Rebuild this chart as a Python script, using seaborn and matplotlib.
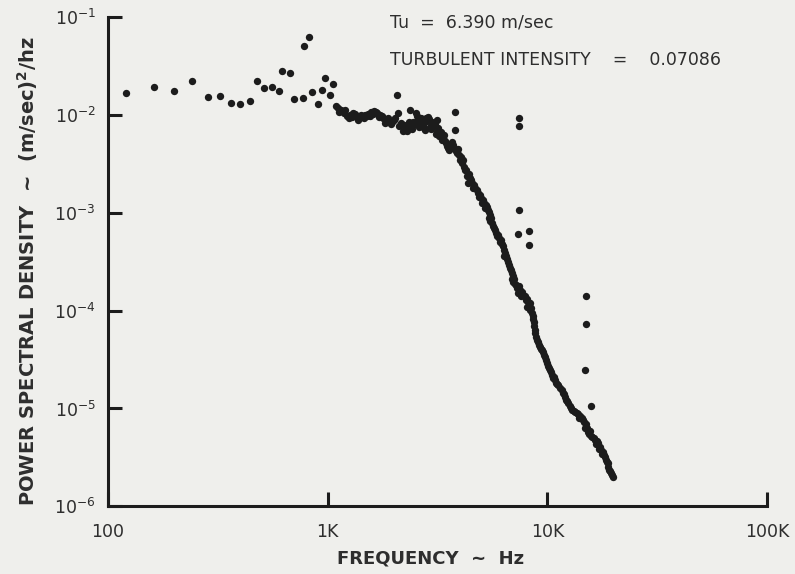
import matplotlib
matplotlib.use("Agg")
import matplotlib.pyplot as plt
import numpy as np
import pandas as pd
import seaborn as sns

# low frequency scattered estimates (Hz, (m/sec)^2/hz)
freq_low = [120, 161, 200, 240, 286, 324, 363, 400, 441, 478, 514, 559, 600,
            617, 673, 703, 769, 780, 824, 851, 900, 942, 975, 1020, 1054, 1087]
psd_low = [1.68e-2, 1.94e-2, 1.75e-2, 2.23e-2, 1.52e-2, 1.55e-2, 1.33e-2,
           1.29e-2, 1.38e-2, 2.23e-2, 1.87e-2, 1.95e-2, 1.76e-2, 2.81e-2,
           2.66e-2, 1.45e-2, 1.48e-2, 5.1e-2, 6.3e-2, 1.70e-2, 1.30e-2,
           1.82e-2, 2.38e-2, 1.62e-2, 2.07e-2, 1.24e-2]

# dense part of the spectrum, centre of the trace
freq_main = [1110, 1150, 1190, 1220, 1260, 1300, 1345, 1390, 1430, 1480,
             1525, 1575, 1625, 1675, 1730, 1785, 1840, 1900, 1960, 2025,
             2090, 2155, 2200, 2270, 2320, 2370, 2395, 2445, 2525, 2575,
             2630, 2690, 2745, 2800, 2860, 2920, 2985, 3045, 3145, 3145,
             3245, 3350, 3455, 3530, 3605, 3720, 3840, 3960, 4045, 4130,
             4175, 4260, 4400, 4350, 4490, 4635, 4780, 4935, 5095, 5255,
             5365, 5480, 5480, 5655, 5775, 5960, 6150, 6280, 6415, 6550,
             6690, 6830, 6975, 6975, 7200, 7430, 7350, 7665, 7910, 8075,
             8335, 8075, 8335, 8600, 8690, 8780, 8875, 9060, 9255, 9550,
             9750, 9960, 10280, 10490, 10830, 11180, 11660, 12020, 12410, 12810,
             13220, 13640, 14070, 14530, 14990, 15300, 15790, 16300, 16820, 17360,
             17910, 18290, 18670, 18870, 19280, 19680]
psd_main = [1.17e-2, 1.12e-2, 1.04e-2, 9.7e-3, 9.95e-3, 1.04e-2, 9.7e-3, 9.27e-3, 9.5e-3, 9.95e-3,
            1.02e-2, 1.07e-2, 1.09e-2, 1.04e-2, 9.95e-3, 9.27e-3, 8.85e-3, 8.64e-3, 8.44e-3, 9.27e-3,
            1.04e-2, 8.24e-3, 6.83e-3, 7.33e-3, 7.87e-3, 1.12e-2, 7.5e-3, 8.44e-3, 1.04e-2, 9.06e-3,
            8.05e-3, 8.44e-3, 7.33e-3, 9.27e-3, 9.5e-3, 7.5e-3, 8.05e-3, 8.44e-3, 8.85e-3, 6.67e-3,
            6.36e-3, 5.79e-3, 5.15e-3, 4.58e-3, 4.91e-3, 4.91e-3, 4.26e-3, 3.88e-3, 3.70e-3, 3.45e-3,
            2.92e-3, 2.72e-3, 2.48e-3, 2.0e-3, 2.16e-3, 1.92e-3, 1.70e-3, 1.51e-3, 1.35e-3, 1.20e-3,
            1.07e-3, 9.45e-4, 8.21e-4, 7.29e-4, 6.64e-4, 5.90e-4, 5.25e-4, 4.55e-4, 3.86e-4, 3.35e-4,
            2.91e-4, 2.59e-4, 2.25e-4, 1.95e-4, 1.82e-4, 1.78e-4, 1.51e-4, 1.54e-4, 1.41e-4, 1.31e-4,
            1.19e-4, 1.08e-4, 1.01e-4, 8.76e-5, 7.61e-5, 6.30e-5, 5.34e-5, 4.75e-5, 4.22e-5, 3.75e-5,
            3.34e-5, 2.90e-5, 2.46e-5, 2.18e-5, 1.94e-5, 1.73e-5, 1.54e-5, 1.31e-5, 1.13e-5, 1.0e-5,
            9.36e-6, 8.93e-6, 8.32e-6, 7.57e-6, 6.89e-6, 5.71e-6, 5.20e-6, 4.96e-6, 4.62e-6, 4.01e-6,
            3.57e-6, 3.17e-6, 2.82e-6, 2.50e-6, 2.28e-6, 2.07e-6]

# extra points filling out the band between 1.1K and 4K
freq_band = [1126, 1200, 1250, 1290, 1330, 1375, 1420, 1465, 1510, 1560,
             1610, 1660, 1710, 1765, 1825, 1880, 1940, 2005, 2110, 2225,
             2295, 2345, 2420, 2495, 2550, 2605, 2660, 2715, 2775, 2830,
             2890, 2950, 3015, 3080, 3110, 3180, 3210, 3280, 3315, 3385,
             3420, 3490, 3565, 3640, 3680, 3760, 3880, 3920]
psd_band = [1.07e-2, 1.12e-2, 9.27e-3, 9.5e-3, 1.02e-2, 8.85e-3, 9.95e-3, 9.27e-3, 9.72e-3, 9.72e-3,
            1.02e-2, 1.07e-2, 9.5e-3, 9.72e-3, 8.24e-3, 9.27e-3, 8.05e-3, 8.85e-3, 7.68e-3, 7.87e-3,
            6.83e-3, 8.44e-3, 7.16e-3, 8.05e-3, 9.72e-3, 7.5e-3, 9.27e-3, 7.87e-3, 6.99e-3, 8.64e-3,
            9.06e-3, 7.16e-3, 7.68e-3, 8.05e-3, 6.36e-3, 7.33e-3, 6.07e-3, 6.67e-3, 5.52e-3, 6.21e-3,
            5.40e-3, 4.80e-3, 4.37e-3, 4.58e-3, 5.27e-3, 4.58e-3, 4.07e-3, 4.47e-3]

# extra points along the steep roll-off
freq_slope = [4000, 4085, 4215, 4305, 4445, 4540, 4585, 4680, 4835, 4885,
              4985, 5040, 5145, 5200, 5310, 5425, 5425, 5540, 5595, 5715,
              5835, 5895, 6020, 6085, 6215, 6345, 6345, 6480, 6615, 6755,
              6900, 6900, 7045, 7120, 7270, 7505, 7585, 7745, 7990, 8160,
              8250, 8420, 8510, 8600, 8690, 8780, 8970, 9160, 9350, 9450,
              9650, 9850, 10060, 10170, 10380, 10600, 10720, 10940, 11060, 11410,
              11780, 11900, 12150, 12280, 12670, 12940, 13360, 13780, 13930, 14370,
              14680, 14830, 15150, 15460, 15630, 15960, 16470, 16650, 17000, 17180,
              17540, 17730, 18100, 18480, 18870, 19070, 19480, 19890]
psd_slope = [3.45e-3, 3.22e-3, 2.72e-3, 2.37e-3, 2.26e-3, 2.0e-3, 1.78e-3, 1.78e-3, 1.58e-3, 1.44e-3,
             1.41e-3, 1.26e-3, 1.26e-3, 1.12e-3, 1.14e-3, 1.01e-3, 8.81e-4, 8.81e-4, 7.83e-4, 6.96e-4,
             6.18e-4, 5.76e-4, 5.50e-4, 5.0e-4, 4.77e-4, 4.15e-4, 3.60e-4, 3.60e-4, 3.13e-4, 2.71e-4,
             2.41e-4, 2.09e-4, 2.09e-4, 1.86e-4, 1.69e-4, 1.62e-4, 1.41e-4, 1.44e-4, 1.28e-4, 1.23e-4,
             1.11e-4, 1.06e-4, 9.41e-5, 8.16e-5, 6.93e-5, 5.88e-5, 4.98e-5, 4.43e-5, 4.03e-5, 3.94e-5,
             3.50e-5, 3.11e-5, 2.70e-5, 2.58e-5, 2.34e-5, 2.04e-5, 2.08e-5, 1.81e-5, 1.77e-5, 1.61e-5,
             1.43e-5, 1.40e-5, 1.21e-5, 1.19e-5, 1.06e-5, 9.58e-6, 9.15e-6, 8.72e-6, 7.94e-6, 7.94e-6,
             7.23e-6, 6.27e-6, 6.27e-6, 5.45e-6, 5.85e-6, 5.07e-6, 4.73e-6, 4.31e-6, 4.41e-6, 3.83e-6,
             3.74e-6, 3.40e-6, 3.32e-6, 2.95e-6, 2.75e-6, 2.33e-6, 2.17e-6, 1.98e-6]

# isolated spikes above the curve
freq_spike = [2070, 3800, 3800, 7430, 7430, 7430, 7350, 8250, 8250,
              14990, 14990, 14830, 15790]
psd_spike = [1.59e-2, 1.07e-2, 6.99e-3, 9.27e-3, 7.68e-3, 1.06e-3, 6.04e-4,
             6.49e-4, 4.66e-4, 1.40e-4, 7.26e-5, 2.46e-5, 1.06e-5]

x_ticks = [100, 1000, 10000, 100000]
x_labels = ['100', '1K', '10K', '100K']
y_ticks = [1e-6, 1e-5, 1e-4, 1e-3, 1e-2, 1e-1]
y_labels = ['$10^{-6}$', '$10^{-5}$', '$10^{-4}$', '$10^{-3}$', '$10^{-2}$', '$10^{-1}$']

df = pd.DataFrame({
    'freq': freq_low + freq_main + freq_band + freq_slope + freq_spike,
    'psd': psd_low + psd_main + psd_band + psd_slope + psd_spike,
})

sns.set_theme(style='ticks')
plt.rcParams['font.family'] = ['DejaVu Sans']
plt.rcParams['mathtext.fontset'] = 'dejavusans'
plt.rcParams['mathtext.default'] = 'regular'

ink = '#1c1c1c'
text_col = '#2e2e2e'
paper = '#efefec'

fig = plt.figure(figsize=(7.95, 5.74), dpi=100, facecolor=paper)
ax = fig.add_axes([0.136, 0.118, 0.829, 0.852])
ax.set_facecolor(paper)

sns.scatterplot(data=df, x='freq', y='psd', ax=ax, color=ink, s=28,
                linewidth=0, legend=False, zorder=3)

ax.set_xscale('log')
ax.set_yscale('log')
ax.set_xlim(100, 100000)
ax.set_ylim(1e-6, 1e-1)
ax.minorticks_off()
ax.set_xticks(x_ticks)
ax.set_xticklabels(x_labels)
ax.set_yticks(y_ticks)
ax.set_yticklabels(y_labels)

for side in ['top', 'right']:
    ax.spines[side].set_visible(False)
for side in ['left', 'bottom']:
    ax.spines[side].set_linewidth(2.2)
    ax.spines[side].set_color(ink)

ax.tick_params(axis='both', direction='in', length=10, width=2.2,
               color=ink, labelcolor=text_col, labelsize=12.5)
ax.tick_params(axis='x', pad=12)
ax.tick_params(axis='y', pad=9)

ax.set_xlabel('FREQUENCY  ~  Hz', fontsize=13, fontweight='bold', color=text_col)
ax.xaxis.set_label_coords(0.489, -0.088)
ax.set_ylabel('POWER SPECTRAL DENSITY  ~  (m/sec)$^2$/hz', fontsize=14,
              fontweight='bold', color=text_col)
ax.yaxis.set_label_coords(-0.103, 0.48)

ax.text(0.428, 0.99, 'Tu  =  6.390 m/sec', transform=ax.transAxes,
        fontsize=12.5, color=text_col, va='center', ha='left')
ax.text(0.428, 0.912, 'TURBULENT INTENSITY    =    0.07086', transform=ax.transAxes,
        fontsize=12.5, color=text_col, va='center', ha='left')

fig.savefig('out.png', dpi=100, facecolor=paper)
